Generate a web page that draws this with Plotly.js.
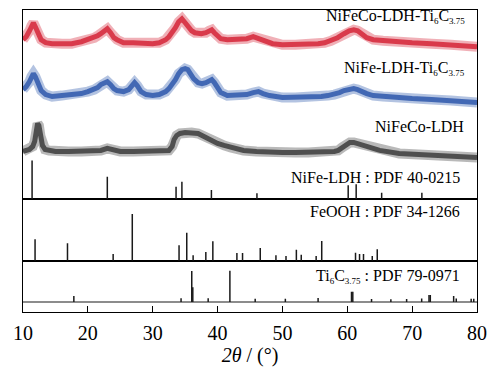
<!DOCTYPE html>
<html>
<head>
<meta charset="utf-8">
<script src="https://cdn.plot.ly/plotly-3.0.1.min.js"></script>
<style>html,body{margin:0;padding:0;background:#fff;}#chart{width:495px;height:367px;}</style>
</head>
<body>
<div id="chart"></div>
<script>
// ---- XRD patterns (offset intensities, a.u.) ----
const redX = [10,10.5,11,11.3,11.6,11.9,12.3,12.8,13.5,14.5,16,17.5,19,20,21,21.5,22,22.5,23,23.5,24,24.5,25.5,27,28.5,30,31,32,32.5,33,33.5,34,34.5,35,35.5,36,36.5,37.5,38.2,38.7,39.1,39.5,40,40.5,41.5,43,44.5,45.5,46.5,47.5,48.5,50,52,54,55.5,56.5,57.5,58.5,59.5,60.3,61,61.6,62.2,63,64,65.5,67,70,73,76,80];
const redY = [160,163,169,174,177,173,166,160,157,156,156,156,158,160,162,164,166,169,171,167,162,160,157,157,156,156,157,160,163,167,172,178,181,177,172,169,167,166,167,169,170,167,164,161,160,160,161,163,161,158,156,155,155,155,156,157,159,162,166,169,170,169,166,162,160,159,158,157,156,155,153];

const blueX = [10,10.5,11,11.3,11.6,11.9,12.3,12.8,13.5,14.5,16,17.5,19,20,21,21.5,22,22.5,23,23.5,24,24.5,25.5,26.3,26.8,27.2,27.6,28.2,29,30,31,32,32.5,33,33.5,34,34.5,35,35.4,35.8,36.3,37,37.6,38.2,38.7,39.1,39.5,40,40.5,41.5,43,44.5,45.5,46.3,47,48,50,52,54,56,57,58,58.8,59.5,60.3,61,61.6,62.2,63,64,65.5,67,70,73,76,80];
const blueY = [110,113,118,123,126,123,116,109,105,103,104,105,106,108,110,112,115,117,118,115,111,109,108,110,114,117,114,108,105,104,105,108,111,115,120,126,130,131,130,126,121,117,116,117,119,120,117,111,107,104,104,105,107,108,106,104,102,102,102,103,104,105,107,109,110,111,110,108,106,104,103,102,101,100,99,97];

const grayX = [10,10.5,11,11.5,11.8,12.05,12.25,12.45,12.7,13.0,13.4,14,15,17,19,21,22,23,24,25,27,29,31,32.5,33,33.3,33.7,34.2,35,36,37,37.6,38.2,39,40,41,42,43,44,46,48,50,52,54,56,58,58.6,59.2,59.8,60.4,61,61.6,62.2,63,64,65,66.5,68,71,74,77,80];
const grayY = [48,49,50,53,58,68,76,74,63,54,50,49,48,48,48,48,49,51,49,48,48,48,48,49,53,60,64,66,67,67,66,64,62,59,56,54,52,50,49,48,47,47,47,47,47,48,49,52,55,57,57,56,55,53,51,49,47,46,45,44,43,42];

// ---- reference patterns (stick positions, relative heights) ----
const ldhPos = [11.4,23.0,33.6,34.5,39.05,46.07,60.14,61.37,65.3,71.5];
const ldhH   = [39,22.6,12.6,17.6,9.3,6,14,15,6.6,6.6];

const feoohPos = [11.86,16.86,23.9,26.85,34.06,35.25,36.23,38.19,39.27,42.98,43.85,46.58,49.0,50.55,52.15,52.9,55.2,56.06,61.27,61.89,62.5,63.85,64.62];
const feoohH   = [21.4,17.4,6.7,46.7,15.4,28,5.4,8.7,19.4,7.7,7.7,12.7,5.4,4.7,11,6,4.7,19.7,8,6.7,6.7,4.7,11.4];

const ticPos = [17.84,34.37,36.02,36.18,38.55,41.9,45.8,50.45,55.5,60.65,60.85,63.74,66.72,69.15,71.47,72.6,72.8,76.4,76.8,79.1,79.5];
const ticH   = [6,3.7,31,14.7,3.7,31.3,3.3,3.3,4,10.3,10.3,3,2.7,3,3.6,7,7,6,3.6,3.3,3.3];

const xTicks = [10,20,30,40,50,60,70,80];

function sticks(pos, h) {
  const x = [], y = [];
  for (let i = 0; i < pos.length; i++) { x.push(pos[i], pos[i], null); y.push(0, h[i], null); }
  return {x, y};
}

const serif = 'Liberation Serif';
const stickColor = '#1a1a1a';
const s1 = sticks(ldhPos, ldhH), s2 = sticks(feoohPos, feoohH), s3 = sticks(ticPos, ticH);

function pattern(x, y, color) {
  return [
    {x, y, xaxis: 'x3', yaxis: 'y3', mode: 'lines', opacity: 0.4, line: {color, width: 10, shape: 'linear'}, hoverinfo: 'skip'},
    {x, y, xaxis: 'x3', yaxis: 'y3', mode: 'lines', line: {color, width: 5, shape: 'linear'}, hoverinfo: 'skip'}
  ];
}

const traces = [].concat(
  pattern(grayX, grayY, '#4f4f4f'),
  pattern(blueX, blueY, '#4268b4'),
  pattern(redX, redY, '#d93a4b'),
  [
    {x: s1.x, y: s1.y, xaxis: 'x3', yaxis: 'y3', mode: 'lines', line: {color: stickColor, width: 1.5}, connectgaps: false},
    {x: s2.x, y: s2.y, xaxis: 'x2', yaxis: 'y2', mode: 'lines', line: {color: stickColor, width: 1.5}, connectgaps: false},
    {x: s3.x, y: s3.y, xaxis: 'x', yaxis: 'y', mode: 'lines', line: {color: stickColor, width: 1.5}, connectgaps: false},
    {x: [10, 80], y: [0, 0], xaxis: 'x', yaxis: 'y', mode: 'lines', line: {color: stickColor, width: 1.2}}
  ]
);

const frame = {showline: true, mirror: true, linecolor: '#000', linewidth: 1, showgrid: false, zeroline: false};
const hidden = Object.assign({}, frame, {showticklabels: false, ticks: ''});

const ann = (text, x, y) => ({text, x, y, xref: 'paper', yref: 'paper', xanchor: 'right', yanchor: 'middle', showarrow: false, font: {family: serif, size: 16, color: '#000'}});
const sb = t => '<sub><span style="font-size:9px">' + t + '</span></sub>';
const tiC = 'Ti' + sb('6') + 'C' + sb('3.75');

const layout = {
  width: 495, height: 367,
  margin: {l: 23, r: 18, t: 10, b: 55},
  paper_bgcolor: '#fff', plot_bgcolor: '#fff',
  showlegend: false,
  font: {family: serif, color: '#000'},
  xaxis: Object.assign({}, frame, {anchor: 'y', range: [10, 80], tickvals: xTicks, ticks: 'inside', ticklen: 6, tickwidth: 1, tickcolor: '#000',
    ticklabelstandoff: 3,
    tickfont: {family: serif, size: 20, color: '#000'},
    title: {text: '<i>2θ</i> / (°)', font: {family: serif, size: 20, color: '#000'}, standoff: 2}}),
  xaxis2: Object.assign({}, hidden, {anchor: 'y2', range: [10, 80]}),
  xaxis3: Object.assign({}, hidden, {anchor: 'y3', range: [10, 80]}),
  yaxis: Object.assign({}, hidden, {domain: [0, 0.1699], range: [-10, 41.3]}),
  yaxis2: Object.assign({}, hidden, {domain: [0.1699, 0.3732], range: [0, 61.4]}),
  yaxis3: Object.assign({}, hidden, {domain: [0.3732, 1], range: [0, 189.8]}),
  annotations: [
    ann('NiFeCo-LDH-' + tiC, 0.977, 0.979),
    ann('NiFe-LDH-' + tiC, 0.977, 0.805),
    ann('NiFeCo-LDH', 0.975, 0.613),
    ann('NiFe-LDH : PDF 40-0215', 0.966, 0.447),
    ann('FeOOH : PDF 34-1266', 0.966, 0.334),
    ann(tiC + ' : PDF 79-0971', 0.966, 0.119)
  ]
};

Plotly.newPlot('chart', traces, layout, {staticPlot: true, displayModeBar: false});
</script>
</body>
</html>
